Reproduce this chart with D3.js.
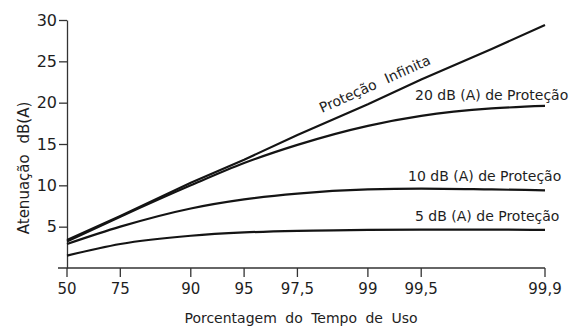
<!DOCTYPE html>
<html>
<head>
<meta charset="utf-8">
<script src="https://cdn.jsdelivr.net/npm/d3@7"></script>
<style>
  body { margin: 0; background: #fff; }
  svg text { font-family: "DejaVu Sans", sans-serif; fill: #1e1e1e; }
</style>
</head>
<body>
<svg id="chart"></svg>
<script>
// percentage of time the protector is worn
const pcts = [50, 75, 90, 95, 97.5, 99, 99.5, 99.8, 99.9];
const xTicks = [50, 75, 90, 95, 97.5, 99, 99.5, 99.9];
const yTicks = [5, 10, 15, 20, 25, 30];

// attenuation, dB(A)
const infinita = [3.4, 6.3, 10.3, 13.1, 16.1, 19.8, 22.8, 26.5, 29.4];
const prot20 = [3.2, 6.2, 10.0, 12.7, 14.9, 17.2, 18.4, 19.3, 19.6];
const prot10 = [2.9, 5.0, 7.2, 8.3, 9.0, 9.5, 9.6, 9.5, 9.4];
const prot5 = [1.5, 2.9, 3.9, 4.3, 4.5, 4.6, 4.65, 4.65, 4.6];

const series = [
  { name: "Proteção Infinita", values: infinita, straight: true },
  { name: "20 dB (A) de Proteção", values: prot20 },
  { name: "10 dB (A) de Proteção", values: prot10 },
  { name: "5 dB (A) de Proteção", values: prot5 },
];

const width = 587, height = 327;
const svg = d3.select("#chart").attr("width", width).attr("height", height);

// x is a log scale on the time NOT worn (100 - p)
const x = d3.scaleLog().domain([50, 0.1]).range([67, 545]);
const px = (p) => x(100 - p);
const y = d3.scaleLinear().domain([0, 30]).range([268, 20]);

const fmt = (d) => String(d).replace(".", ",");

// x axis (ticks placed through px since the scale works on 100-p)
const gx = svg.append("g").attr("transform", `translate(0,${y(0)})`);
gx.append("path")
  .attr("d", `M${px(50) - 9},0H${px(99.9)}`)
  .attr("stroke", "#333").attr("stroke-width", 1.3).attr("fill", "none");
const xt = gx.selectAll(".xt").data(xTicks).enter().append("g")
  .attr("class", "xt")
  .attr("transform", (d) => `translate(${px(d)},0)`);
xt.append("line").attr("y2", 9).attr("stroke", "#333").attr("stroke-width", 1.3);
xt.append("text")
  .attr("y", 26).attr("text-anchor", "middle")
  .style("font-size", "15px")
  .text(fmt);

// y axis
const gy = svg.append("g")
  .attr("transform", `translate(${px(50)},0)`)
  .call(d3.axisLeft(y).tickValues(yTicks).tickSize(8).tickSizeOuter(0).tickPadding(2));
gy.select(".domain").attr("stroke", "#333").attr("stroke-width", 1.3);
gy.selectAll(".tick line").attr("stroke", "#333").attr("stroke-width", 1.3);
gy.selectAll(".tick text").style("font-size", "16px").attr("fill", "#1e1e1e");

// lines
series.forEach((s) => {
  const line = d3.line()
    .x((d, i) => px(pcts[i]))
    .y((d) => y(d))
    .curve(s.straight ? d3.curveLinear : d3.curveMonotoneX);
  svg.append("path")
    .datum(s.values)
    .attr("fill", "none")
    .attr("stroke", "#141414")
    .attr("stroke-width", 2.2)
    .attr("d", line);
});

// label along the infinite line
const ang = Math.atan2(y(infinita[8]) - y(infinita[0]), px(99.9) - px(50)) * 180 / Math.PI;
svg.append("text")
  .attr("transform", `translate(322,113) rotate(${ang})`)
  .style("font-size", "14px")
  .style("word-spacing", "6px")
  .text("Proteção Infinita");

svg.append("text").attr("x", 415).attr("y", 100)
  .style("font-size", "14px").text("20 dB (A) de Proteção");
svg.append("text").attr("x", 408).attr("y", 181)
  .style("font-size", "14px").text("10 dB (A) de Proteção");
svg.append("text").attr("x", 415).attr("y", 221)
  .style("font-size", "14px").text("5 dB (A) de Proteção");

// axis titles
svg.append("text")
  .attr("x", 301).attr("y", 323)
  .attr("text-anchor", "middle")
  .style("font-size", "14px")
  .style("word-spacing", "4px")
  .text("Porcentagem do Tempo de Uso");

svg.append("text")
  .attr("transform", `translate(29,168) rotate(-90)`)
  .attr("text-anchor", "middle")
  .style("font-size", "15px")
  .style("word-spacing", "6px")
  .text("Atenuação dB(A)");
</script>
</body>
</html>
